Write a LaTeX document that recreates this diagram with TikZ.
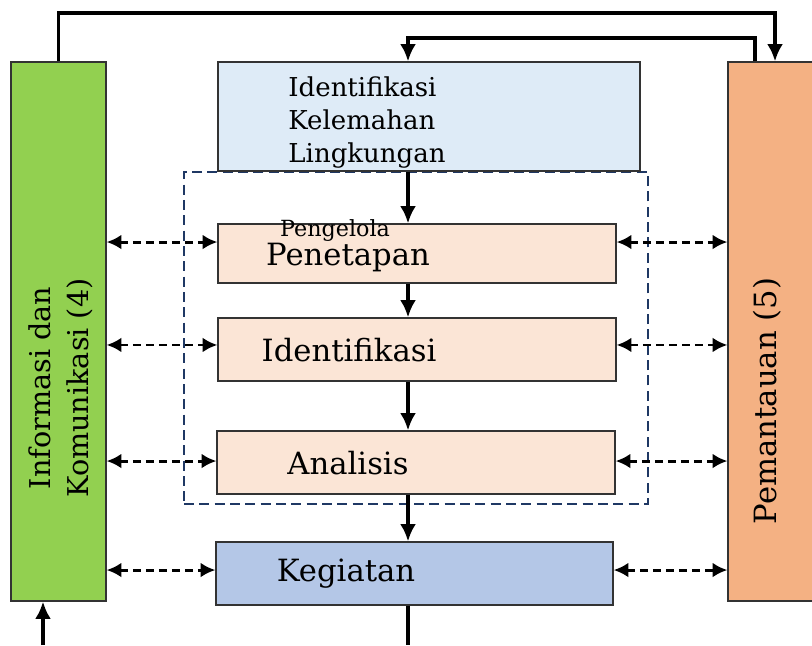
\documentclass[tikz,border=0pt]{standalone}
\usepackage{fontspec}
\setmainfont{DejaVu Serif}
\usetikzlibrary{arrows.meta}

\definecolor{infogreen}{HTML}{92D050}
\definecolor{monorange}{HTML}{F4B183}
\definecolor{weakblue}{HTML}{DEEBF7}
\definecolor{steppeach}{HTML}{FBE5D6}
\definecolor{actblue}{HTML}{B4C7E7}
\definecolor{groupnavy}{HTML}{1F3864}

\begin{document}
\begin{tikzpicture}[x=0.75pt,y=-0.75pt,
    box/.style={rectangle, draw=black!80, line width=0.9pt, inner sep=0pt},
    stepbox/.style={box, fill=steppeach, minimum width=298.5pt, minimum height=47.25pt},
    flow/.style={line width=2.6pt, -{Latex[length=13pt,width=12pt]}},
    link/.style={line width=2.2pt, dash pattern=on 6pt off 3.75pt,
      {Latex[length=11pt,width=11pt]}-{Latex[length=11pt,width=11pt]}},
    lbl/.style={font=\fontsize{23}{26}\selectfont}]

  \useasboundingbox (0,0) rectangle (812,645);

  % dashed group round the three steps
  \node[draw=groupnavy, line width=1.6pt, dash pattern=on 7.5pt off 4pt,
        minimum width=348pt, minimum height=249pt] (group) at (416,338) {};

  % side columns
  \node[box, fill=infogreen, minimum width=71.25pt, minimum height=404.25pt] (info) at (58.5,331.5) {};
  \node[box, fill=monorange, minimum width=66pt, minimum height=404.25pt] (mon) at (772,331.5) {};
  \node[rotate=90, align=center, font=\fontsize{21.5}{29}\selectfont] (infolbl) at (61,388) {Informasi dan\\Komunikasi (4)};
  \node[lbl, rotate=90] (monlbl) at (767,401) {Pemantauan (5)};

  % middle boxes
  \node[box, fill=weakblue, minimum width=316.5pt, minimum height=81.75pt] (top) at (429,116.5) {};
  \begin{scope}
    \clip (top.north west) rectangle (top.south east);
    \node[align=left, font=\fontsize{19.5}{24.75}\selectfont] (weaklbl) at (367,123) {Identifikasi\\Kelemahan\\Lingkungan};
  \end{scope}

  \node[stepbox, minimum height=44.25pt] (pen) at (417,253.5) {};
  \node[stepbox] (ident) at (417,349.5) {};
  \node[stepbox] (anal) at (416,462.5) {};
  \node[box, fill=actblue, minimum width=297.75pt, minimum height=47.25pt] (keg) at (414.5,573.5) {};

  \node[font=\fontsize{16.7}{18}\selectfont] (pengelola) at (335,231) {Pengelola};
  \node[lbl] (penlbl) at (348,258) {Penetapan};
  \node[lbl] (identlbl) at (349,350) {Identifikasi};
  \node[lbl] (anallbl) at (348,463) {Analisis};
  \node[lbl] (keglbl) at (346,574) {Kegiatan};

  % main flow down the middle
  \coordinate (axis) at (408,0);
  \coordinate (bottom) at (408,645);
  \draw[flow] (top.south -| axis) -- (pen.north -| axis);
  \draw[flow] (pen.south -| axis) -- (ident.north -| axis);
  \draw[flow] (ident.south -| axis) -- (anal.north -| axis);
  \draw[flow] (anal.south -| axis) -- (keg.north -| axis);
  \draw[line width=2.6pt] (keg.south -| axis) -- (bottom);

  % loops over the top
  \coordinate (loopA) at (775,13);
  \coordinate (loopB) at (755,38);
  \draw[flow] (info.north) |- (loopA) -- (mon.north -| loopA);
  \draw[flow] (mon.north -| loopB) |- (loopB -| axis) -- (top.north -| axis);

  % feed into the green column
  \coordinate (feed) at (43,645);
  \draw[flow] (feed) -- (feed |- info.south);

  % dashed links to both columns
  \foreach \b/\s in {pen/8.6, ident/3.4, anal/1.1, keg/2.6}{
    \coordinate (row) at ([yshift=\s pt]\b.west);
    \draw[link] (info.east |- row) -- (row);
    \draw[link] (\b.east |- row) -- (mon.west |- row);
  }

\end{tikzpicture}
\end{document}
